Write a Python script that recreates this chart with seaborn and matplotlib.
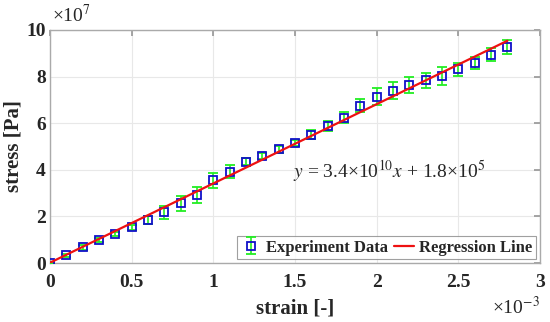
import numpy as np
import pandas as pd
import matplotlib.pyplot as plt
from matplotlib.ticker import FuncFormatter
import seaborn as sns

# Data
strain = [0.0, 0.1, 0.2, 0.3, 0.4, 0.5, 0.6, 0.7, 0.8, 0.9,
          1.0, 1.1, 1.2, 1.3, 1.4, 1.5, 1.6, 1.7, 1.8, 1.9,
          2.0, 2.1, 2.2, 2.3, 2.4, 2.5, 2.6, 2.7, 2.8]  # x1e-3
stress = [0.0, 0.33, 0.67, 0.99, 1.24, 1.53, 1.85, 2.17, 2.56, 2.92,
          3.55, 3.92, 4.35, 4.59, 4.88, 5.16, 5.51, 5.88, 6.24, 6.75,
          7.14, 7.40, 7.63, 7.84, 8.04, 8.31, 8.58, 8.93, 9.26]  # x1e7
stress_err = [0.05, 0.08, 0.1, 0.1, 0.1, 0.12, 0.19, 0.27, 0.31, 0.36,
              0.32, 0.27, 0.14, 0.14, 0.14, 0.14, 0.18, 0.22, 0.24, 0.28,
              0.35, 0.35, 0.34, 0.32, 0.39, 0.29, 0.25, 0.28, 0.3]  # x1e7
slope = 3.4e10
intercept = 1.8e5

df = pd.DataFrame({'strain': np.array(strain) * 1e-3,
                   'stress': np.array(stress) * 1e7,
                   'err': np.array(stress_err) * 1e7})
df['fit'] = slope * df['strain'] + intercept

sns.set_theme(style="whitegrid")
plt.rcParams['font.family'] = ['Liberation Serif', 'DejaVu Serif']
plt.rcParams['mathtext.fontset'] = 'stix'

fig = plt.figure(figsize=(5.5, 3.22), dpi=100)
ax = fig.add_axes([0.091, 0.183, 0.891, 0.724])

ax.errorbar(df['strain'], df['stress'], yerr=df['err'], fmt='s',
            mfc='none', mec='#1010c8', mew=1.3, ms=5.5,
            ecolor='#22ee22', elinewidth=1.2, capsize=3.5, capthick=1.2,
            label='Experiment Data', zorder=3)
sns.lineplot(data=df, x='strain', y='fit', color='#ee1111', lw=1.6,
             label='Regression Line', ax=ax, zorder=4)

ax.set_xlim(0, 3e-3)
ax.set_ylim(0, 1e8)
ax.set_xticks(np.arange(0, 3.01e-3, 0.5e-3))
ax.set_yticks(np.arange(0, 1.01e8, 2e7))
ax.xaxis.set_major_formatter(FuncFormatter(lambda v, p: f"{v * 1e3:g}"))
ax.yaxis.set_major_formatter(FuncFormatter(lambda v, p: f"{v / 1e7:g}"))

ax.tick_params(axis='both', labelsize=14, direction='in', length=4,
               top=True, right=True, color='#999999')
ax.tick_params(axis='x', pad=8)
ax.tick_params(axis='y', pad=3)
for lab in ax.get_xticklabels() + ax.get_yticklabels():
    lab.set_fontweight('bold')
ax.grid(True, color='#e8e8e8', lw=0.8)
for s in ax.spines.values():
    s.set_color('#aaaaaa')
    s.set_linewidth(1.0)

# scale factors as in the original
ax.text(0.003, 1.015, r'×10$^{7}$', transform=ax.transAxes, fontsize=14,
        ha='left', va='bottom')
ax.text(1.0, -0.14, r'×10$^{-3}$', transform=ax.transAxes, fontsize=14,
        ha='right', va='top')

ax.set_xlabel('strain [-]', fontsize=15, fontweight='bold', labelpad=5)
ax.set_ylabel('stress [Pa]', fontsize=15, fontweight='bold', labelpad=2)

ax.text(1.49e-3, 3.9e7, r'$y$ = 3.4×10$^{10}$$x$ + 1.8×10$^{5}$',
        fontsize=14, va='center', ha='left')

handles, labels = ax.get_legend_handles_labels()
order = [labels.index('Experiment Data'), labels.index('Regression Line')]
leg = ax.legend([handles[i] for i in order], [labels[i] for i in order],
                loc='lower right', ncol=2, frameon=True,
                handlelength=1.2, handletextpad=0.3, columnspacing=0.4,
                borderpad=0.2, borderaxespad=0.25, fancybox=False,
                prop={'weight': 'bold', 'size': 12})
leg.get_frame().set_edgecolor('#888888')
leg.get_frame().set_linewidth(0.8)

plt.savefig('out.png', dpi=100)
